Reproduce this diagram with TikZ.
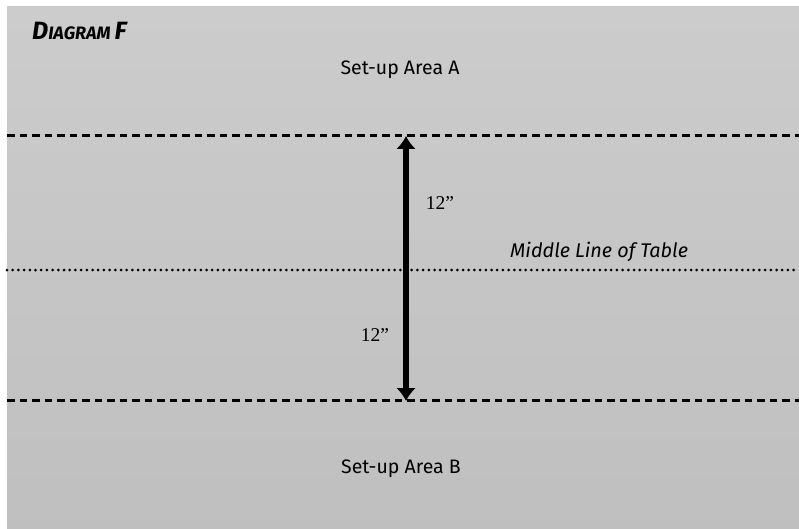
\documentclass[tikz,border=0pt]{standalone}
\usepackage{fontspec}
\setmainfont{Fira Sans}
\newfontfamily\numfont{Liberation Serif}
\usetikzlibrary{arrows.meta}
\tikzset{
  sheet/.style={top color=black!20, bottom color=black!25, draw=none},
  boundary/.style={line width=3pt, dash pattern=on 7.5pt off 5pt},
  midline/.style={line width=3pt, line cap=round, dash pattern=on 0pt off 5.7pt},
  span/.style={line width=5.5pt, {Latex[length=13pt,width=20pt]}-{Latex[length=13pt,width=20pt]}},
  area/.style={font=\fontsize{19.5}{22}\selectfont, anchor=base, inner sep=0pt},
  measure/.style={font=\numfont\fontsize{19.5}{22}\selectfont, anchor=base, inner sep=0pt},
  tag/.style={font=\itshape\fontsize{19.8}{22}\selectfont, anchor=base west, inner sep=0pt},
  title/.style={font=\bfseries\itshape, anchor=base west, inner sep=0pt}
}
\begin{document}
\begin{tikzpicture}[x=1pt, y=-1pt]
  \useasboundingbox (0,0) rectangle (799,529);
  % table surface
  \fill[white] (0,0) rectangle (799,529);
  \shade[sheet] (7,7) rectangle (799,529);

  % reference lines
  \coordinate (aL) at (7,136);   \coordinate (aR) at (799,136);
  \coordinate (mL) at (7,270);   \coordinate (mR) at (799,270);
  \coordinate (bL) at (7,400);   \coordinate (bR) at (799,400);
  \draw[boundary] (aL) -- (aR);
  \draw[midline] (mL) -- (mR);
  \draw[boundary] (bL) -- (bR);

  % distance arrow
  \coordinate (top) at (406,136);
  \coordinate (bot) at (406,401);
  \draw[span] (top) -- (bot);

  % labels
  \node[title] (ttl) at (32,40) {\fontsize{25}{28}\selectfont D\fontsize{18}{20}\selectfont IAGRAM \fontsize{25}{28}\selectfont F};
  \node[area] (setA) at (400,75) {Set-up Area A};
  \node[area] (setB) at (401,473) {Set-up Area B};
  \node[measure] (d1) at (440,210) {12”};
  \node[measure] (d2) at (375,341) {12”};
  \node[tag] (mid) at (510,257) {Middle Line of Table};
\end{tikzpicture}
\end{document}
